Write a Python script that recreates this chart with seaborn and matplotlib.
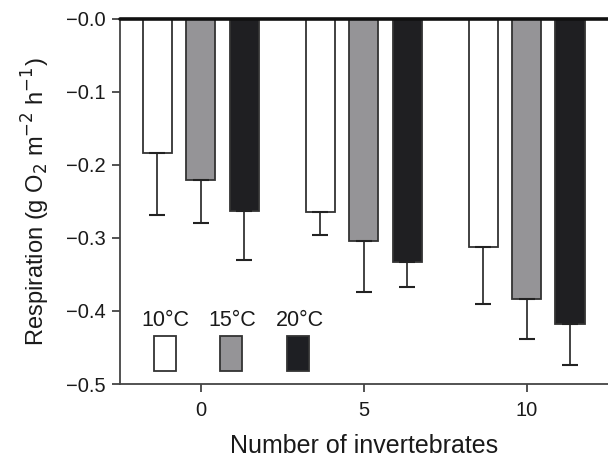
import matplotlib
matplotlib.use("Agg")
import matplotlib.pyplot as plt
import seaborn as sns
import pandas as pd
from matplotlib.patches import Rectangle

groups = ["0", "5", "10"]
temps = ["10°C", "15°C", "20°C"]
resp_10 = [-0.184, -0.264, -0.313]
resp_15 = [-0.220, -0.304, -0.383]
resp_20 = [-0.263, -0.333, -0.418]
err_10 = [0.084, 0.032, 0.078]
err_15 = [0.059, 0.070, 0.055]
err_20 = [0.067, 0.034, 0.056]
yticks = [-0.5, -0.4, -0.3, -0.2, -0.1, 0.0]
ytick_labels = ["−0.5", "−0.4", "−0.3", "−0.2", "−0.1", "−0.0"]

colors = ["#ffffff", "#959497", "#1e1f23"]

rows = []
for t, vals in zip(temps, [resp_10, resp_15, resp_20]):
    for g, v in zip(groups, vals):
        rows.append({"group": g, "temp": t, "resp": v})
df = pd.DataFrame(rows)

sns.set_style("ticks")
plt.rcParams["font.family"] = ["Liberation Sans", "DejaVu Sans"]

fig = plt.figure(figsize=(6.08, 4.57), dpi=100)
ax = fig.add_axes([119.5 / 608, 73 / 457, 488.5 / 608, 365 / 457])

sns.barplot(data=df, x="group", y="resp", hue="temp", order=groups,
            hue_order=temps, palette=colors, errorbar=None, gap=0.33,
            edgecolor="#333333", linewidth=1.3, legend=False, ax=ax)

errs = err_10 + err_15 + err_20
vals = resp_10 + resp_15 + resp_20
bars = [p for p in ax.patches if isinstance(p, Rectangle)]
# seaborn adds bars hue-by-hue
for p, v, e in zip(bars, vals, errs):
    xc = p.get_x() + p.get_width() / 2
    ax.errorbar(xc, v, yerr=[[e], [0]], fmt="none", ecolor="#222222",
                elinewidth=1.2, capsize=5.8, capthick=1.5, zorder=1)

ax.axhline(0, color="#111111", lw=2.6, zorder=5, clip_on=False)
ax.set_xlim(-0.5, 2.5)
ax.set_ylim(-0.5, 0.0)
ax.set_yticks(yticks)
ax.set_yticklabels(ytick_labels)
ax.tick_params(axis="both", labelsize=14.5, length=6, width=1.3, color="#444444",
               labelcolor="#1a1a1a", pad=4)
ax.tick_params(axis="x", pad=6)
for s in ["top", "right"]:
    ax.spines[s].set_visible(False)
for s in ["left", "bottom"]:
    ax.spines[s].set_color("#444444")
    ax.spines[s].set_linewidth(1.3)

ax.set_xlabel("Number of invertebrates", fontsize=18, color="#1a1a1a", labelpad=10)
ax.set_ylabel("Respiration (g O$_2$ m$^{-2}$ h$^{-1}$)", fontsize=17,
              color="#1a1a1a", labelpad=10)

# custom legend: labels above boxes
box_x = [0.0706, 0.2057, 0.342]
lab_x = [0.093, 0.2317, 0.369]
for bx, lx, c, t in zip(box_x, lab_x, colors, temps):
    ax.add_patch(Rectangle((bx, 0.0364), 0.045, 0.0959, transform=ax.transAxes,
                           facecolor=c, edgecolor="#333333", lw=1.3, zorder=6))
    ax.text(lx, 0.175, t, transform=ax.transAxes, ha="center", va="center",
            fontsize=15.5, color="#1a1a1a")

fig.savefig("out.png", dpi=100)
